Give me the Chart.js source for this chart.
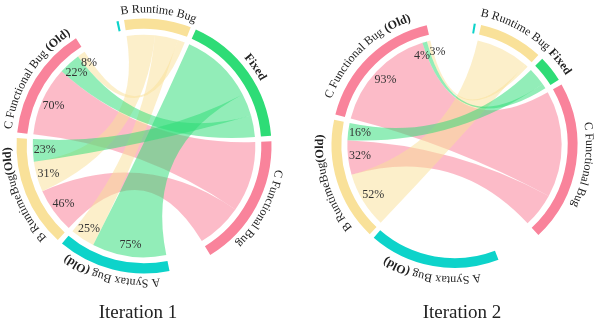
<!DOCTYPE html>
<html>
<head>
<meta charset="utf-8">
<title>Bug transitions</title>
<script src="https://cdn.jsdelivr.net/npm/chart.js@4.4.1/dist/chart.umd.min.js"></script>
<style>
  html, body { margin: 0; padding: 0; background: #fff; }
  #wrap { position: relative; width: 603px; height: 323px; overflow: hidden; }
  canvas { position: absolute; top: 0; }
  #chart1 { left: 0; }
  #chart2 { left: 300px; }
</style>
</head>
<body>
<div id="wrap">
  <canvas id="chart1" width="300" height="323"></canvas>
  <canvas id="chart2" width="303" height="323"></canvas>
</div>
<script>
// nodes, clockwise from the top
const nodeNames = ['A Syntax Bug', 'B Runtime Bug', 'Fixed', 'C Functional Bug',
                   'A Syntax Bug (Old)', 'B RuntimeBug(Old)', 'C Functional Bug (Old)'];
const nodeColors = ['#0dd3ca', '#f9e199', '#2edc76', '#f9839b', '#0dd3ca', '#f9e199', '#f9839b'];
const newNodes = [0, 1, 2, 3];
const oldNodes = [4, 5, 6];

// arc sizes (degrees)
const iter1Sizes = [1, 30.5, 61.4, 60.8, 51.6, 51, 51.7];
const iter2Sizes = [1, 30.5, 12.5, 76.5, 62, 58.3, 62.6];

// % of each old bug type going to [A Syntax, B Runtime, Fixed, C Functional]
const iter1Flows = [
    [0, 25, 75, 0],   // A Syntax Bug (Old)
    [0, 31, 23, 46],  // B RuntimeBug(Old)
    [0, 8, 22, 70],   // C Functional Bug (Old)
];
const iter2Flows = [
    [0, 0, 0, 0],
    [0, 52, 16, 32],
    [0, 3, 4, 93],
];

const titles = ['Iteration 1', 'Iteration 2'];

const SMALL_GAP = 2.5;
const FONT = '"Liberation Serif", "DejaVu Serif", serif';

function labelParts(name) {
    if (name === 'Fixed') return [{ t: 'Fixed', bold: true }];
    if (name.endsWith('(Old)')) return [{ t: name.slice(0, -5), bold: false }, { t: '(Old)', bold: true }];
    return [{ t: name, bold: false }];
}

function hexToRgba(hex, a) {
    const n = parseInt(hex.slice(1), 16);
    return `rgba(${(n >> 16) & 255}, ${(n >> 8) & 255}, ${n & 255}, ${a})`;
}

// text running clockwise along a circle, tops facing outwards
function drawArcText(ctx, cx, cy, radius, theta, parts, size) {
    const chars = [];
    let total = 0;
    parts.forEach(p => {
        const font = (p.bold ? 'bold ' : '') + size + 'px ' + FONT;
        ctx.font = font;
        for (const ch of p.t) {
            const w = ctx.measureText(ch).width;
            chars.push({ ch, w, font });
            total += w;
        }
    });
    let a = theta - total / radius / 2;
    ctx.fillStyle = '#222';
    ctx.textAlign = 'center';
    ctx.textBaseline = 'alphabetic';
    chars.forEach(c => {
        ctx.save();
        ctx.translate(cx, cy);
        ctx.rotate(a + c.w / 2 / radius);
        ctx.font = c.font;
        ctx.fillText(c.ch, 0, -radius);
        ctx.restore();
        a += c.w / radius;
    });
}

const chordPlugin = {
    id: 'chord',
    afterDatasetsDraw(chart, args, opts) {
        const ctx = chart.ctx;
        const arcs = chart.getDatasetMeta(0).data;
        const nodeArc = i => arcs[i * 2];
        const cx = arcs[0].x, cy = arcs[0].y;
        const outer = arcs[0].outerRadius;
        const r = arcs[0].innerRadius - 6;
        const { sizes, flows } = opts;

        // source side: biggest share first, clockwise
        const srcSeg = {};
        oldNodes.forEach((node, s) => {
            const el = nodeArc(node);
            const span = el.endAngle - el.startAngle;
            let a = el.startAngle;
            const order = [0, 1, 2, 3].filter(t => flows[s][t] > 0).sort((x, y) => flows[s][y] - flows[s][x]);
            order.forEach(t => {
                const w = span * flows[s][t] / 100;
                srcSeg[s + '-' + t] = [a, a + w];
                a += w;
            });
        });

        // target side
        const tgtSeg = {};
        newNodes.forEach((node, t) => {
            const el = nodeArc(node);
            const span = el.endAngle - el.startAngle;
            const weight = s => flows[s][t] * sizes[oldNodes[s]];
            const inc = [0, 1, 2].filter(s => flows[s][t] > 0).sort((x, y) => weight(y) - weight(x));
            const total = inc.reduce((acc, s) => acc + weight(s), 0);
            let a = el.startAngle;
            inc.forEach(s => {
                const w = span * weight(s) / total;
                tgtSeg[s + '-' + t] = [a, a + w];
                a += w;
            });
        });

        // ribbons, pink first and green on top
        ctx.save();
        [3, 1, 0, 2].forEach(t => {
            [0, 1, 2].forEach(s => {
                const src = srcSeg[s + '-' + t];
                const tgt = tgtSeg[s + '-' + t];
                if (!src || !tgt) return;
                ctx.beginPath();
                ctx.moveTo(cx + r * Math.cos(src[0]), cy + r * Math.sin(src[0]));
                ctx.arc(cx, cy, r, src[0], src[1]);
                ctx.quadraticCurveTo(cx, cy, cx + r * Math.cos(tgt[0]), cy + r * Math.sin(tgt[0]));
                ctx.arc(cx, cy, r, tgt[0], tgt[1]);
                ctx.quadraticCurveTo(cx, cy, cx + r * Math.cos(src[0]), cy + r * Math.sin(src[0]));
                ctx.closePath();
                ctx.fillStyle = hexToRgba(nodeColors[newNodes[t]], t === 3 ? 0.55 : 0.52);
                ctx.fill();
            });
        });

        // percentage labels near the old arcs
        ctx.font = '12px ' + FONT;
        ctx.fillStyle = '#333';
        ctx.textAlign = 'center';
        ctx.textBaseline = 'middle';
        const lr = r - 12;
        const minSep = 16 / lr;
        oldNodes.forEach((node, s) => {
            const items = [0, 1, 2, 3].filter(t => srcSeg[s + '-' + t])
                .map(t => ({ t, a: (srcSeg[s + '-' + t][0] + srcSeg[s + '-' + t][1]) / 2 }))
                .sort((x, y) => x.a - y.a);
            for (let i = 1; i < items.length; i++) {
                if (items[i].a - items[i - 1].a < minSep) {
                    const m = (items[i].a + items[i - 1].a) / 2;
                    items[i - 1].a = m - minSep / 2;
                    items[i].a = m + minSep / 2;
                }
            }
            items.forEach(it => {
                ctx.fillText(flows[s][it.t] + '%', cx + lr * Math.cos(it.a), cy + lr * Math.sin(it.a));
            });
        });

        // curved node names
        nodeNames.forEach((name, i) => {
            if (sizes[i] < 5) return;
            const el = nodeArc(i);
            const theta = (el.startAngle + el.endAngle) / 2 + Math.PI / 2;
            drawArcText(ctx, cx, cy, outer + opts.labelGap, theta, labelParts(name), 12);
        });

        // title under the diagram
        ctx.font = '19px ' + FONT;
        ctx.fillStyle = '#222';
        ctx.textAlign = 'center';
        ctx.textBaseline = 'alphabetic';
        ctx.fillText(opts.title, opts.titleX, 318);
        ctx.restore();
    }
};

function makeChart(id, sizes, flows, title, titleX, rotation, labelGap, padding) {
    const oldSum = sizes.reduce((a, b) => a + b, 0);
    const bigGap = (360 - oldSum - SMALL_GAP * 5) / 2;
    const labels = [], values = [], colors = [];
    nodeNames.forEach((name, i) => {
        labels.push(name);
        values.push(sizes[i]);
        colors.push(nodeColors[i]);
        labels.push('');
        values.push(i === 3 || i === 6 ? bigGap : SMALL_GAP);
        colors.push('rgba(0,0,0,0)');
    });

    return new Chart(document.getElementById(id), {
        type: 'doughnut',
        data: {
            labels: labels,
            datasets: [{
                data: values,
                backgroundColor: colors,
                borderWidth: 0,
                hoverOffset: 0,
            }]
        },
        options: {
            responsive: false,
            animation: false,
            events: [],
            rotation: rotation,
            cutout: '92%',
            layout: { padding: padding },
            plugins: {
                legend: { display: false },
                tooltip: { enabled: false },
                chord: { sizes, flows, title, titleX, labelGap },
            }
        },
        plugins: [chordPlugin],
    });
}

makeChart('chart1', iter1Sizes, iter1Flows, titles[0], 138, -12.5, 6,
    { left: 16.5, top: 18.5, right: 28.5, bottom: 49.5 });
makeChart('chart2', iter2Sizes, iter2Flows, titles[1], 162, 9, 8.5,
    { left: 31.5, top: 22, right: 25.5, bottom: 55 });
</script>
</body>
</html>
